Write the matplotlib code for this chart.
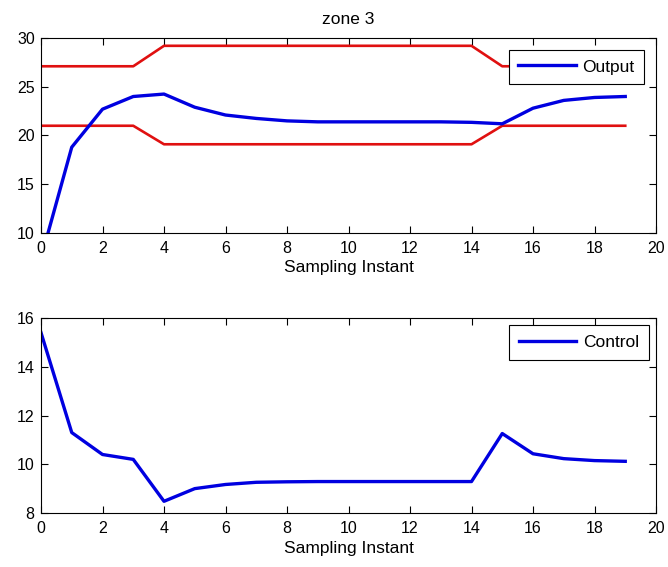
import matplotlib
matplotlib.use('Agg')
import matplotlib.pyplot as plt

plt.rcParams['font.family'] = ['Liberation Sans', 'DejaVu Sans']
plt.rcParams['font.size'] = 11

# data
k = list(range(20))
output = [7.4, 18.8, 22.7, 24.0, 24.25, 22.9, 22.1, 21.75, 21.5, 21.4,
          21.4, 21.4, 21.4, 21.4, 21.35, 21.2, 22.8, 23.6, 23.9, 24.0]
upper = [27.1, 27.1, 27.1, 27.1] + [29.2] * 11 + [27.1] * 5
lower = [21.0, 21.0, 21.0, 21.0] + [19.1] * 11 + [21.0] * 5
control = [15.4, 11.3, 10.4, 10.2, 8.48, 9.0, 9.17, 9.26, 9.28, 9.29,
           9.29, 9.29, 9.29, 9.29, 9.29, 11.26, 10.43, 10.23, 10.15, 10.12]

W, H = 668, 567
fig = plt.figure(figsize=(W / 100, H / 100), dpi=100)

ax1 = fig.add_axes([41 / W, 1 - 233 / H, 615 / W, 195 / H])
ax2 = fig.add_axes([41 / W, 1 - 513 / H, 615 / W, 195 / H])


def style(ax):
    ax.tick_params(direction='in', top=True, right=True, length=5,
                   width=0.8, labelsize=11.5)
    ax.tick_params(axis='x', pad=6)
    ax.tick_params(axis='y', pad=4.5)
    for s in ax.spines.values():
        s.set_linewidth(0.8)
    ax.set_xlim(0, 20)
    ax.set_xticks(range(0, 21, 2))
    ax.set_xlabel('Sampling Instant', fontsize=12.5, labelpad=3)


def legend(ax, handles, pad):
    leg = ax.legend(handles=handles, loc='upper right', fancybox=False,
                    edgecolor='black', framealpha=1, handlelength=3.3,
                    handletextpad=0.4, borderaxespad=pad, borderpad=0.55,
                    fontsize=12.5)
    leg.get_frame().set_linewidth(0.8)


# 1: output with bounds
ax1.plot(k, upper, color='#e01010', lw=1.9)
ax1.plot(k, lower, color='#e01010', lw=1.9)
out_line, = ax1.plot(k, output, color='#0000e0', lw=2.4, label='Output')
ax1.set_ylim(10, 30)
ax1.set_yticks(range(10, 31, 5))
style(ax1)
ax1.set_title('zone 3', fontsize=12.5, pad=10)
legend(ax1, [out_line], 0.68)

# 2: control
ctl_line, = ax2.plot(k, control, color='#0000e0', lw=2.4, label='Control')
ax2.set_ylim(8, 16)
ax2.set_yticks(range(8, 17, 2))
style(ax2)
legend(ax2, [ctl_line], 0.42)

fig.savefig('out.png', dpi=100)
